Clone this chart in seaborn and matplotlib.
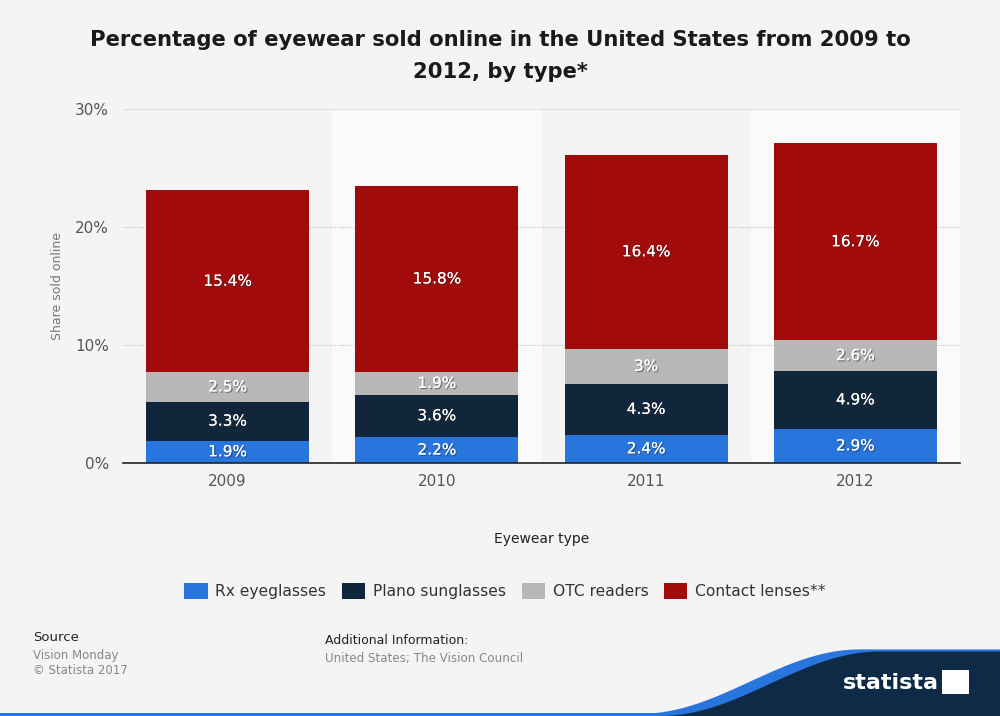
import matplotlib
matplotlib.use("Agg")
import matplotlib.pyplot as plt
import seaborn as sns
import numpy as np
import pandas as pd
from matplotlib.patches import Polygon, Rectangle, Patch
import matplotlib.patheffects as pe

years = ["2009", "2010", "2011", "2012"]
series_names = ["Rx eyeglasses", "Plano sunglasses", "OTC readers", "Contact lenses**"]
rx = [1.9, 2.2, 2.4, 2.9]
plano = [3.3, 3.6, 4.3, 4.9]
otc = [2.5, 1.9, 3.0, 2.6]
contact = [15.4, 15.8, 16.4, 16.7]
value_labels = [
    ["1.9%", "2.2%", "2.4%", "2.9%"],
    ["3.3%", "3.6%", "4.3%", "4.9%"],
    ["2.5%", "1.9%", "3%", "2.6%"],
    ["15.4%", "15.8%", "16.4%", "16.7%"],
]
colors = ["#2876dd", "#12263b", "#b8b8b8", "#a20b0b"]
yticks = [0, 10, 20, 30]
ytick_labels = ["0%", "10%", "20%", "30%"]

sns.set_theme(style="white")
plt.rcParams["font.family"] = ["DejaVu Sans"]

bg = "#f4f4f4"
fig = plt.figure(figsize=(10, 7.16), dpi=100, facecolor=bg)
ax = fig.add_axes([0.123, 0.3534, 0.837, 0.4944])
ax.set_facecolor(bg)

for i in range(len(years)):
    if i % 2 == 1:
        ax.axvspan(i - 0.5, i + 0.5, color="#fafafa", zorder=0, lw=0)

df = pd.DataFrame({"year": years, "Rx": rx, "Plano": plano, "OTC": otc, "Contact": contact})
cols = ["Rx", "Plano", "OTC", "Contact"]
n = len(years)
bottoms = np.zeros(n)
for k, c in enumerate(cols):
    d = df.copy()
    d["top"] = bottoms + df[c].values
    sns.barplot(data=d, x="year", y="top", color=colors[k], ax=ax, width=0.78,
                saturation=1, label=series_names[k])
    bottoms = bottoms + df[c].values

bar_patches = [p for p in ax.patches if isinstance(p, Rectangle) and p.get_width() < 0.9]
for idx, p in enumerate(bar_patches):
    series_idx = idx // n
    p.set_zorder(10 - series_idx)
    p.set_edgecolor("none")

bottoms = np.zeros(n)
for k, c in enumerate(cols):
    vals = df[c].values
    for i in range(n):
        ax.text(i, bottoms[i] + vals[i] / 2, value_labels[k][i], ha="center", va="center",
                color="white", fontsize=11, zorder=20,
                path_effects=[pe.withSimplePatchShadow(offset=(1, -1), shadow_rgbFace="#333333", alpha=0.5), pe.Normal()])
    bottoms = bottoms + vals

ax.set_xlim(-0.5, 3.5)
ax.set_ylim(0, 30)
ax.set_yticks(yticks)
ax.set_yticklabels(ytick_labels, fontsize=11, color="#555555")
ax.tick_params(axis="x", labelsize=11, colors="#555555", length=0, pad=8)
ax.tick_params(axis="y", length=0, pad=10)
ax.yaxis.grid(True, linestyle=(0, (1, 1.5)), color="#bbbbbb", lw=0.8, zorder=1)
ax.set_axisbelow(True)
for s in ["top", "right", "left"]:
    ax.spines[s].set_visible(False)
ax.spines["bottom"].set_color("#222222")
ax.spines["bottom"].set_linewidth(1.2)
ax.spines["bottom"].set_zorder(15)
ax.set_xlabel("Eyewear type", fontsize=10, color="#222222", labelpad=31)
ax.set_ylabel("Share sold online", fontsize=9, color="#777777")
ax.yaxis.set_label_coords(-0.07, 0.5)

leg = ax.get_legend()
if leg:
    leg.remove()
handles = [Patch(facecolor=colors[k], edgecolor="none") for k in range(4)]
fig.legend(handles, series_names, loc="center", bbox_to_anchor=(0.505, 0.175), ncol=4,
           frameon=False, fontsize=11.2, handlelength=1.5, handleheight=1.2,
           columnspacing=1.0, handletextpad=0.5, labelcolor="#333333")

fig.text(0.5, 0.922, "Percentage of eyewear sold online in the United States from 2009 to\n2012, by type*",
         ha="center", va="center", fontsize=15.25, fontweight="bold", color="#1a1a1a", linespacing=1.72)

fig.text(0.033, 0.109, "Source", fontsize=9.5, color="#222222", va="center")
fig.text(0.033, 0.085, "Vision Monday", fontsize=8.5, color="#888888", va="center")
fig.text(0.033, 0.063, "© Statista 2017", fontsize=8.5, color="#888888", va="center")
fig.text(0.325, 0.106, "Additional Information:", fontsize=9, color="#222222", va="center")
fig.text(0.325, 0.080, "United States; The Vision Council", fontsize=8.6, color="#888888", va="center")

t = np.linspace(0, 1, 50)
xs_curve = 0.66 + 0.22 * t
ys_curve = 0.0 + 0.09 * (0.5 - 0.5 * np.cos(np.pi * t))
blue_pts = [(0.63, 0.0)] + list(zip(xs_curve - 0.02, ys_curve + 0.003)) + [(1.0, 0.093), (1.0, 0.0)]
fig.patches.append(Polygon(blue_pts, closed=True, transform=fig.transFigure, facecolor="#2876dd", edgecolor="none", zorder=1))
navy_pts = [(0.66, 0.0)] + list(zip(xs_curve, ys_curve)) + [(1.0, 0.09), (1.0, 0.0)]
fig.patches.append(Polygon(navy_pts, closed=True, transform=fig.transFigure, facecolor="#0e2a47", edgecolor="none", zorder=2))
fig.patches.append(Rectangle((0, 0), 0.8, 0.004, transform=fig.transFigure, facecolor="#2876dd", edgecolor="none", zorder=1))
fig.text(0.843, 0.046, "statista", fontsize=16, fontweight="bold", color="white", va="center", zorder=5)
fig.patches.append(Rectangle((0.942, 0.031), 0.027, 0.033, transform=fig.transFigure, facecolor="white", edgecolor="none", zorder=5))

fig.savefig("out.png", dpi=100, facecolor=bg)
